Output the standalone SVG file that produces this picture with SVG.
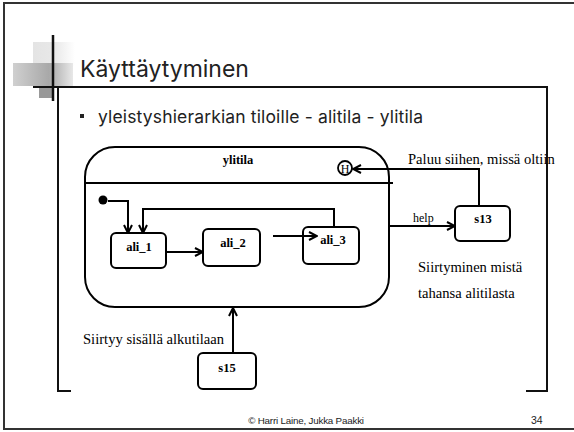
<svg xmlns="http://www.w3.org/2000/svg" width="574" height="432" viewBox="0 0 574 432">
<defs>
<style>
.ln{fill:none;stroke:#000;stroke-width:2}
.box{fill:#fff;stroke:#000;stroke-width:2}
.lbl{font-family:"Liberation Serif",serif;font-size:12.5px;font-weight:bold;text-anchor:middle;fill:#000}
.note{font-family:"Liberation Serif",serif;font-size:14.6px;fill:#000}
.frame{fill:none;stroke:#111;stroke-width:2}
</style>
<marker id="ah" markerWidth="10" markerHeight="10" refX="9" refY="5" orient="auto" markerUnits="userSpaceOnUse">
<path d="M1,1 L9,5 L1,9" fill="none" stroke="#000" stroke-width="2"/>
</marker>
<linearGradient id="g1" x1="0" x2="1" y1="0" y2="0">
<stop offset="0" stop-color="#e4e4e4"/><stop offset="0.5" stop-color="#e8e8e8"/><stop offset="1" stop-color="#fff"/>
</linearGradient>
<linearGradient id="g2" x1="0" x2="1" y1="0" y2="0">
<stop offset="0" stop-color="#d0d0d0"/><stop offset="0.6" stop-color="#a8a8a8"/><stop offset="1" stop-color="#e8e8e8"/>
</linearGradient>
</defs>
<rect x="0" y="0" width="574" height="432" fill="#fff"/>
<g id="slide-frame">
<rect x="4" y="3" width="572" height="426" fill="none" stroke="#333" stroke-width="2"/>
</g>
<g id="title-decoration">
<rect x="33" y="42" width="42" height="24" fill="url(#g1)"/>
<rect x="13" y="63" width="60" height="23" fill="url(#g2)"/>
<rect x="39" y="88" width="14" height="10" fill="#999"/>
<line x1="53" y1="35" x2="53" y2="101" stroke="#111" stroke-width="2.5"/>
<polyline class="frame" points="33,87 547,87 547,391 526,391"/>
<polyline class="frame" points="58,87 58,391 71,391"/>
</g>
<g id="title">
<text x="80" y="77" font-family="Inter,'Liberation Sans',sans-serif" font-size="23" fill="#222">Käyttäytyminen</text>
</g>
<g id="bullet">
<rect x="80" y="114" width="4" height="4" fill="#222"/>
<text x="98" y="123" font-family="Inter,'Liberation Sans',sans-serif" font-size="17.5" letter-spacing="0.15" fill="#222">yleistyshierarkian tiloille - alitila - ylitila</text>
</g>
<g id="ylitila">
<rect x="85" y="147" width="304" height="160" rx="30" ry="30" fill="#fff" stroke="#000" stroke-width="2"/>
<line class="ln" x1="85" y1="183" x2="393" y2="183"/>
<text class="lbl" x="238" y="164">ylitila</text>
</g>
<g id="ali_1">
<rect class="box" x="111" y="233" width="55" height="35" rx="5"/>
<text class="lbl" x="139" y="251">ali_1</text>
</g>
<g id="ali_2">
<rect class="box" x="203" y="229" width="57" height="37" rx="5"/>
<text class="lbl" x="233" y="247">ali_2</text>
</g>
<g id="ali_3">
<rect class="box" x="303" y="227" width="56" height="37" rx="5"/>
<text class="lbl" x="333" y="244">ali_3</text>
</g>
<g id="s13">
<rect class="box" x="455" y="206" width="55" height="35" rx="5"/>
<text class="lbl" x="483" y="223">s13</text>
</g>
<g id="s15">
<rect class="box" x="198" y="353" width="58" height="36" rx="5"/>
<text class="lbl" x="227" y="372">s15</text>
</g>
<g id="connectors">
<polyline class="ln" points="479,206 479,169 353,169" marker-end="url(#ah)"/>
<line class="ln" x1="389" y1="226" x2="455" y2="226" marker-end="url(#ah)"/>
<polyline class="ln" points="108,201 128,201 128,233" marker-end="url(#ah)"/>
<line class="ln" x1="166" y1="252" x2="203" y2="252" marker-end="url(#ah)"/>
<line class="ln" x1="273" y1="236" x2="317" y2="236" marker-end="url(#ah)"/>
<polyline class="ln" points="334,227 334,209 143,209 143,233" marker-end="url(#ah)"/>
<line class="ln" x1="233" y1="353" x2="233" y2="308" marker-end="url(#ah)"/>
<text x="413" y="222" font-family="'Liberation Serif',serif" font-size="12">help</text>
</g>
<g id="history">
<circle cx="345" cy="168" r="7" fill="#fff" stroke="#000" stroke-width="1.8"/>
<text x="345" y="172.5" font-family="'Liberation Serif',serif" font-size="12" text-anchor="middle">H</text>
</g>
<g id="initial">
<circle cx="103" cy="200" r="4.5" fill="#000"/>
</g>
<g id="notes">
<text class="note" x="408" y="164" font-size="15">Paluu siihen, missä oltiin</text>
<text class="note" x="418" y="272">Siirtyminen mistä</text>
<text class="note" x="418" y="298">tahansa alitilasta</text>
<text class="note" x="83" y="344">Siirtyy sisällä alkutilaan</text>
</g>
<g id="footer">
<text x="306" y="424" font-family="'Liberation Sans',sans-serif" font-size="9.8" text-anchor="middle" fill="#222" letter-spacing="-0.2">© Harri Laine, Jukka Paakki</text>
<text x="531" y="424" font-family="'Liberation Sans',sans-serif" font-size="10.5" fill="#222">34</text>
</g>
</svg>
